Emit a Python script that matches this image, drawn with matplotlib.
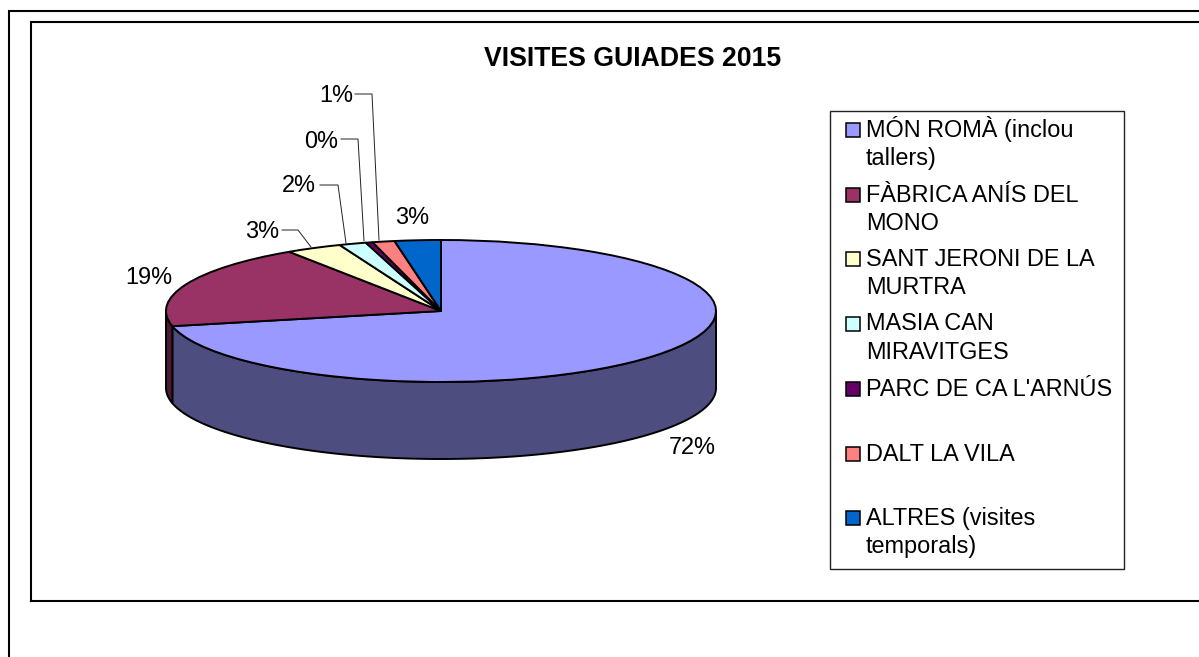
import numpy as np
import matplotlib
matplotlib.use('Agg')
import matplotlib.pyplot as plt
from matplotlib.patches import Rectangle

plt.rcParams['font.family'] = ['Liberation Sans', 'DejaVu Sans']

title = 'VISITES GUIADES 2015'
categories = ['MÓN ROMÀ (inclou\ntallers)', 'FÀBRICA ANÍS DEL\nMONO', 'SANT JERONI DE LA\nMURTRA',
              'MASIA CAN\nMIRAVITGES', "PARC DE CA L'ARNÚS", 'DALT LA VILA', 'ALTRES (visites\ntemporals)']
values = [71.5, 19.1, 3.3, 1.6, 0.4, 1.3, 2.7]
pct_labels = ['72%', '19%', '3%', '2%', '0%', '1%', '3%']
colors = ['#9999FF', '#993366', '#FFFFCC', '#CCFFFF', '#660066', '#FF8080', '#0066CC']
side_colors = ['#4D4D80', '#4D1A33', '#80806A', '#6A8080', '#330033', '#804040', '#003366']

W, H = 1199, 657
cx, cy, rx, ry, depth = 441, 311, 275, 71, 77

fig = plt.figure(figsize=(W / 100, H / 100), dpi=100)

# pie axes, one unit is rx pixels across and ry pixels up
ax = fig.add_axes([0, 0, 1, 1], zorder=2)
d = depth / ry
fracs = np.array(values) / sum(values)
angle = 90.0
for frac, side in zip(fracs, side_colors):
    a1 = angle
    a2 = angle - 360 * frac
    angle = a2
    lo, hi = max(a2, -180), min(a1, 0)
    if hi <= lo:
        continue
    t = np.radians(np.linspace(lo, hi, 200))
    xs = np.r_[np.cos(t), np.cos(t[::-1])]
    ys = np.r_[np.sin(t), np.sin(t[::-1]) - d]
    ax.fill(xs, ys, facecolor=side, edgecolor='black', linewidth=1.4, joinstyle='round')

ax.pie(values, colors=colors, startangle=90, counterclock=False, radius=1,
       wedgeprops={'edgecolor': 'black', 'linewidth': 1.4})
ax.set_aspect('auto')
ax.set_xlim(-cx / rx, (W - cx) / rx)
ax.set_ylim((cy - H) / ry, cy / ry)
ax.axis('off')

# overlay in pixel coordinates for frames, labels and legend
ov = fig.add_axes([0, 0, 1, 1], zorder=3)
ov.set_xlim(0, W)
ov.set_ylim(H, 0)
ov.axis('off')
ov.patch.set_alpha(0)

ov.plot([8.5, 8.5, W], [H, 10.5, 10.5], color='black', lw=1.5, solid_joinstyle='miter')
ov.plot([31, 31, W], [600.5, 21.5, 21.5], color='black', lw=1.5, solid_joinstyle='miter')
ov.plot([31, W], [600.5, 600.5], color='black', lw=1.5)

ov.text(632.5, 66.5, title, fontsize=19.2, fontweight='bold', ha='center', va='baseline')

label_pos = [(692, 448), (149, 278), (262, 232), (299, 186), (321, 142), (336, 96), (412, 217)]
for (x, y), s in zip(label_pos, pct_labels):
    ov.text(x, y, s, fontsize=16.9, ha='center', va='center')

leaders = [([282, 298, 311], [230, 230, 247]), ([320, 338, 346], [185, 185, 243]),
           ([341, 358, 364], [139, 139, 241]), ([355, 372, 379], [94, 94, 240])]
for xs, ys in leaders:
    ov.plot(xs, ys, color='#222222', lw=0.7)

ov.add_patch(Rectangle((830, 110.5), 294, 458, facecolor='white', edgecolor='#222222', lw=1))
baselines = [137, 201.5, 265.5, 330.5, 396, 461, 525]
line_gap = 28.3
for y, s, c in zip(baselines, categories, colors):
    ov.add_patch(Rectangle((845.5, y - 14), 14, 14, facecolor=c, edgecolor='black', lw=1.1))
    for i, line in enumerate(s.split('\n')):
        ov.text(866, y + i * line_gap, line, fontsize=16.9, ha='left', va='baseline')

fig.savefig('out.png', dpi=100)
